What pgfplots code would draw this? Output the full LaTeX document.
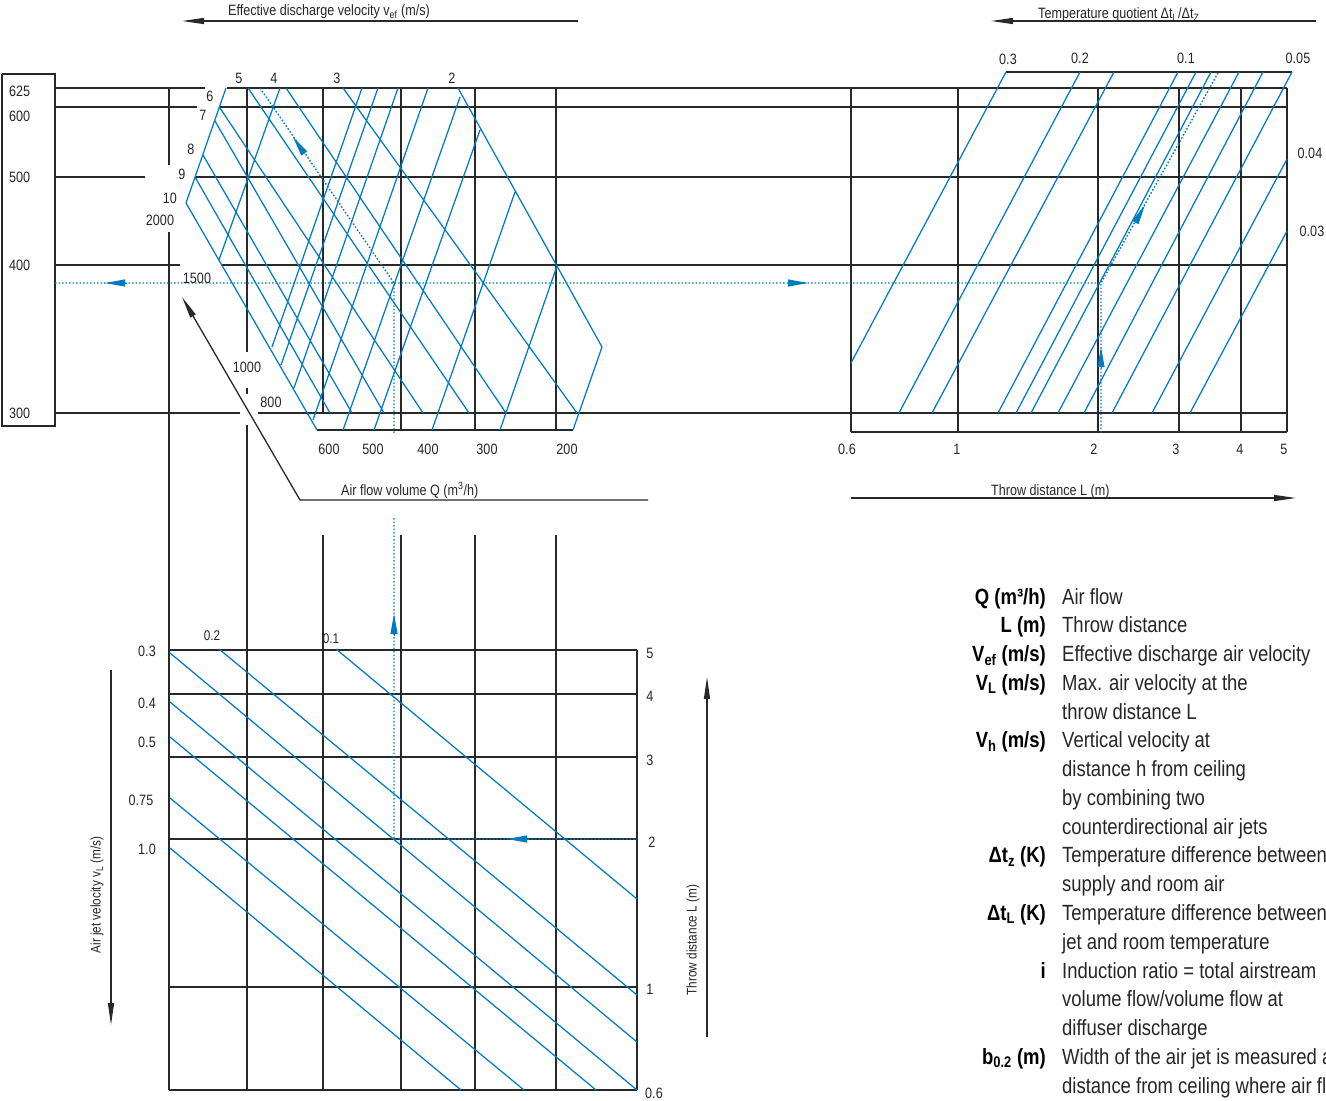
\documentclass[border=0pt]{standalone}
\usepackage{fontspec}
\setmainfont{Liberation Sans}[FakeStretch=0.84]
\usepackage{pgfplots}
\pgfplotsset{compat=1.18}
\usetikzlibrary{arrows.meta}
\definecolor{nb}{RGB}{0,123,195}
\definecolor{ln}{RGB}{40,40,40}
\tikzset{
  blk/.style={ln, line width=1.3bp, mark=none},
  blu/.style={nb, line width=1.25bp, mark=none},
  dot/.style={nb, line width=1.4bp, mark=none, dash pattern=on 1.6bp off 1.9bp},
  tk/.style={font=\fontsize{15bp}{18bp}\selectfont, inner sep=0pt, text=black!85},
  sm/.style={font=\fontsize{14bp}{17bp}\selectfont, inner sep=0pt, text=black!85},
  lgb/.style={font=\fontsize{22bp}{27bp}\selectfont\bfseries, inner sep=0pt, anchor=base east},
  lgt/.style={font=\fontsize{22bp}{27bp}\selectfont, inner sep=0pt, anchor=base west, text=black!85},
  bhead/.style={-{Triangle[length=22bp,width=6bp]}},
  nhead/.style={nb, line width=1bp, mark=none, -{Triangle[length=20bp,width=7bp]}},
}
\begin{document}
\begin{tikzpicture}
\useasboundingbox (0,0) rectangle (1326bp,1101bp);
\clip (0,0) rectangle (1326bp,1101bp);
\begin{axis}[
  at={(0,0)}, anchor=south west,
  width=1326bp, height=1101bp, scale only axis,
  xmin=0, xmax=1326, ymin=0, ymax=1101, y dir=reverse,
  hide axis, clip=false, unbounded coords=jump,
]
% ---------- black grid lines ----------
\addplot[blk] coordinates {
 (55,88)(205,88) (nan,nan) (227,88)(1287,88) (nan,nan)
 (55,107)(197,107) (nan,nan) (220,107)(1287,107) (nan,nan)
 (55,177)(145,177) (nan,nan) (195,177)(1287,177) (nan,nan)
 (55,265)(180,265) (nan,nan) (221,265)(1287,265) (nan,nan)
 (55,413)(240,413) (nan,nan) (258,413)(1287,413) (nan,nan)
 (317,430)(573,430) (nan,nan) (851,432)(1287,432) (nan,nan)
 (1006,72)(1292,72) (nan,nan)
 (169,88)(169,165) (nan,nan) (169,232)(169,1090) (nan,nan)
 (247,88)(247,352) (nan,nan) (247,388)(247,394) (nan,nan) (247,425)(247,1090) (nan,nan)
 (323,88)(323,413) (nan,nan) (323,535)(323,1090) (nan,nan)
 (401,88)(401,430) (nan,nan) (401,535)(401,1090) (nan,nan)
 (475,88)(475,430) (nan,nan) (475,535)(475,1090) (nan,nan)
 (556,88)(556,430) (nan,nan) (556,535)(556,1090) (nan,nan)
 (637,650)(637,1090) (nan,nan)
 (851,88)(851,432) (nan,nan) (958,88)(958,432) (nan,nan) (1098,88)(1098,432) (nan,nan)
 (1179,88)(1179,432) (nan,nan) (1241,88)(1241,432) (nan,nan) (1287,88)(1287,432) (nan,nan)
 (169,650)(637,650) (nan,nan) (169,694)(637,694) (nan,nan) (169,757)(637,757) (nan,nan)
 (169,839)(637,839) (nan,nan) (169,987)(637,987) (nan,nan) (169,1090)(637,1090) (nan,nan)
 (2,74)(55,74)(55,426)(2,426)(2,74)
};
% ---------- black arrows ----------
\addplot[blk, bhead] coordinates {(578,21)(182,21)};
\addplot[blk, bhead] coordinates {(1316,21)(991,21)};
\addplot[blk, bhead] coordinates {(648,500)(300,500)(182,297)};
\addplot[blk, bhead] coordinates {(851,498)(1296,498)};
\addplot[blk, bhead] coordinates {(111,670)(111,1025)};
\addplot[blk, bhead] coordinates {(707,1037)(707,677)};
% ---------- Q / v_ef field ----------
\addplot[blu] coordinates {
 (226,88)(186,203)(317,430) (nan,nan)
 (195,177)(330,413) (nan,nan) (203,155)(352,413) (nan,nan)
 (215,121)(384,413) (nan,nan) (220,108)(423,413) (nan,nan)
 (248,88)(469,413) (nan,nan) (286,88)(506,413) (nan,nan)
 (343,88)(577,413) (nan,nan) (458,88)(602,347)(573,430) (nan,nan)
 (280,88)(219,260) (nan,nan) (362,88)(272,347) (nan,nan)
 (378,88)(281,365) (nan,nan) (398,88)(294,388) (nan,nan)
 (428,88)(313,420) (nan,nan) (460,97)(343,430) (nan,nan)
 (480,130)(374,430) (nan,nan) (515,192)(432,430) (nan,nan)
 (557,266)(500,430)
};
% ---------- temperature quotient field ----------
\addplot[blu] coordinates {
 (1006,72)(851,363) (nan,nan) (1080,72)(899,413) (nan,nan)
 (1114,72)(932,413) (nan,nan) (1178,72)(998,413) (nan,nan)
 (1196,72)(1016,413) (nan,nan) (1211,72)(1031,413) (nan,nan)
 (1239,72)(1058,413) (nan,nan) (1263,72)(1084,413) (nan,nan)
 (1292,72)(1112,413) (nan,nan) (1287,159)(1152,413) (nan,nan)
 (1287,231)(1190,413)
};
% ---------- air jet velocity field ----------
\addplot[blu] coordinates {
 (336,649)(637,899) (nan,nan) (219,649)(637,995) (nan,nan)
 (170,653)(637,1042) (nan,nan) (170,702)(637,1090) (nan,nan)
 (170,737)(596,1090) (nan,nan) (170,798)(524,1090) (nan,nan)
 (170,848)(461,1090)
};
% ---------- worked example ----------
\addplot[dot] coordinates {
 (55,283)(1100,283) (nan,nan) (260,88)(394,283)(394,433) (nan,nan)
 (1218,73)(1101,283)(1101,433) (nan,nan)
 (394,518)(394,839)(637,839)
};
\addplot[nhead] coordinates {(127,283)(105,283)};
\addplot[nhead] coordinates {(788,283)(808,283)};
\addplot[nhead] coordinates {(304.3,153.5)(293,137)};
\addplot[nhead] coordinates {(1101,367)(1101,347)};
\addplot[nhead] coordinates {(1135.3,222.5)(1145,205)};
\addplot[nhead] coordinates {(394,636)(394,614)};
\addplot[nhead] coordinates {(529,839)(507,839)};
% ---------- titles ----------
\node[tk, anchor=base west] at (axis cs:228,16) {Effective discharge velocity v\textsubscript{ef} (m/s)};
\node[tk, anchor=base west] at (axis cs:1038,19) {Temperature quotient Δt\textsubscript{L}/Δt\textsubscript{Z}};
\node[tk, anchor=base west] at (axis cs:341,495) {Air flow volume Q (m\textsuperscript{3}/h)};
\node[tk, anchor=base west] at (axis cs:991,495) {Throw distance L (m)};
\node[sm, rotate=90] at (axis cs:97,895) {Air jet velocity v\textsubscript{L} (m/s)};
\node[sm, rotate=90] at (axis cs:693,940) {Throw distance L (m)};
% ---------- scale labels ----------
\foreach \v/\y in {625/91,600/116,500/177,400/265,300/413}
  {\edef\tmp{\noexpand\node[tk, anchor=west] at (axis cs:9,\y) {\v};}\tmp}
\foreach \v/\x/\y in {5/239/78,4/274/78,3/337/78,2/452/78,6/210/96,7/203/115,8/191/149,9/182/174,10/170/198,
  2000/160/220,1500/197/278,1000/247/367,800/271/402,
  600/329/449,500/373/449,400/428/449,300/487/449,200/567/449,
  0.6/847/449,1/957/449,2/1094/449,3/1176/449,4/1240/449,5/1284/449,
  0.3/1008/59,0.2/1080/58,0.1/1186/58,0.05/1298/58,0.04/1310/153,0.03/1312/231,
  0.3/147/651,0.4/147/703,0.5/147/742,0.75/141/800,1.0/147/849,
  5/650/653,4/650/696,3/650/760,2/652/842,1/650/989,0.6/654/1093}
  {\edef\tmp{\noexpand\node[tk] at (axis cs:\x,\y) {\v};}\tmp}
\node[sm] at (axis cs:212,636) {0.2};
\node[sm] at (axis cs:331,639) {0.1};
% ---------- legend ----------
\node[lgb] at (axis cs:1046,604) {Q (m³/h)};
\node[lgb] at (axis cs:1046,632.8) {L (m)};
\node[lgb] at (axis cs:1046,661.5) {V\textsubscript{ef} (m/s)};
\node[lgb] at (axis cs:1046,690.3) {V\textsubscript{L} (m/s)};
\node[lgb] at (axis cs:1046,747.8) {V\textsubscript{h} (m/s)};
\node[lgb] at (axis cs:1046,862.9) {Δt\textsubscript{z} (K)};
\node[lgb] at (axis cs:1046,920.5) {Δt\textsubscript{L} (K)};
\node[lgb] at (axis cs:1046,978) {i};
\node[lgb] at (axis cs:1046,1064.3) {b\textsubscript{0.2} (m)};
\foreach \t/\y in {Air flow/604,Throw distance/632.8,Effective discharge air velocity/661.5,
  Max. air velocity at the/690.3,throw distance L/719.1,Vertical velocity at/747.8,
  distance h from ceiling/776.6,by combining two/805.4,counterdirectional air jets/834.2,
  Temperature difference between/862.9,supply and room air/891.7,
  Temperature difference between/920.5,jet and room temperature/949.2,
  Induction ratio = total airstream/978,volume flow{/}volume flow at/1006.8,
  diffuser discharge/1035.5,Width of the air jet is measured at/1064.3,
  distance from ceiling where air flow/1093.1}
  {\edef\tmp{\noexpand\node[lgt] at (axis cs:1062,\y) {\t};}\tmp}
\end{axis}
\end{tikzpicture}
\end{document}
